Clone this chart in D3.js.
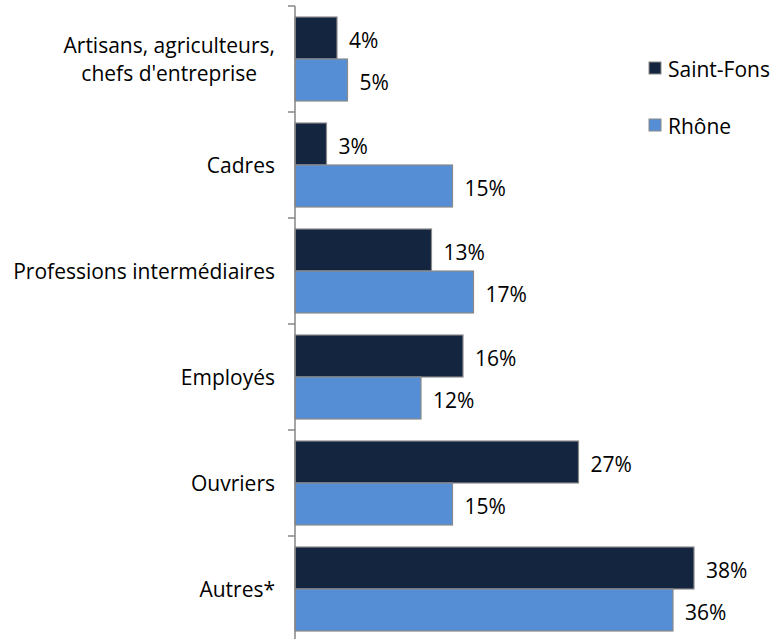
<!DOCTYPE html>
<html>
<head>
<meta charset="utf-8">
<script src="https://cdn.jsdelivr.net/npm/d3@7"></script>
<style>
  html, body { margin: 0; padding: 0; background: #fff; }
  svg { display: block; font-family: "Open Sans", "Noto Sans", sans-serif; }
</style>
</head>
<body>
<svg id="chart" width="776" height="639"></svg>
<script>
// Catégories socioprofessionnelles (lignes de libellé)
const categories = [
  ["Artisans, agriculteurs,", "chefs d'entreprise"],
  ["Cadres"],
  ["Professions intermédiaires"],
  ["Employés"],
  ["Ouvriers"],
  ["Autres*"]
];
const seriesNames = ["Saint-Fons", "Rhône"];
const saintFons = [4, 3, 13, 16, 27, 38];
const rhone = [5, 15, 17, 12, 15, 36];
const seriesColors = ["#13253f", "#558ed5"];

const svg = d3.select("#chart");
const catKeys = categories.map(c => c.join(" "));
const values = [saintFons, rhone];

const y = d3.scaleBand().domain(catKeys).range([6, 642]).paddingInner(0).paddingOuter(0);
const ySub = d3.scaleBand().domain(seriesNames).range([0, y.bandwidth()]).paddingInner(0).paddingOuter(0.262);
const x = d3.scaleLinear().domain([0, 40]).range([295, 715]);

// Barres
catKeys.forEach((key, i) => {
  const g = svg.append("g").attr("transform", `translate(0,${y(key)})`);
  seriesNames.forEach((s, j) => {
    const v = values[j][i];
    g.append("rect")
      .attr("x", x(0))
      .attr("y", ySub(s))
      .attr("width", x(v) - x(0))
      .attr("height", ySub.bandwidth())
      .attr("fill", seriesColors[j])
      .attr("stroke", "#8a8a8a")
      .attr("stroke-width", 1.2);
    g.append("text")
      .attr("x", x(v) + 12)
      .attr("y", ySub(s) + ySub.bandwidth() / 2 + 2)
      .attr("dominant-baseline", "central")
      .attr("font-size", 21)
      .attr("fill", "#000")
      .text(v + "%");
  });
});

// Axe vertical avec graduations entre catégories
const axis = d3.axisLeft(y).tickSize(6).tickFormat("");
const axisG = svg.append("g").attr("transform", `translate(${x(0)},0)`);
axisG.call(axis);
axisG.selectAll(".tick").remove();
axisG.select(".domain").attr("stroke", "#868686").attr("stroke-width", 1.5).attr("d", `M0,${y.range()[0]}V${y.range()[1]}`);
const boundaries = catKeys.map(k => y(k)).concat([y.range()[1]]);
axisG.selectAll("line.sep").data(boundaries).join("line")
  .attr("class", "sep")
  .attr("x1", -7).attr("x2", 0)
  .attr("y1", d => d).attr("y2", d => d)
  .attr("stroke", "#868686").attr("stroke-width", 1.5);

// Libellés des catégories
catKeys.forEach((key, i) => {
  const lines = categories[i];
  const cy = y(key) + y.bandwidth() / 2;
  const lh = 28;
  const t = svg.append("text")
    .attr("font-size", 21)
    .attr("fill", "#000")
    .attr("text-anchor", "middle");
  lines.forEach((ln, k) => {
    t.append("tspan")
      .attr("x", 0)
      .attr("y", cy + (k - (lines.length - 1) / 2) * lh)
      .attr("dominant-baseline", "central")
      .text(ln);
  });
  const w = t.node().getBBox().width;
  t.attr("transform", `translate(${275 - w / 2},0)`);
});

// Légende
const legend = svg.append("g").attr("transform", "translate(649,62)");
seriesNames.forEach((s, j) => {
  const g = legend.append("g").attr("transform", `translate(0,${j * 57})`);
  g.append("rect").attr("width", 12).attr("height", 12)
    .attr("fill", seriesColors[j]).attr("stroke", "#8a8a8a").attr("stroke-width", 1);
  g.append("text").attr("x", 19).attr("y", 7)
    .attr("dominant-baseline", "central")
    .attr("font-size", 21).attr("fill", "#000").text(s);
});
</script>
</body>
</html>
